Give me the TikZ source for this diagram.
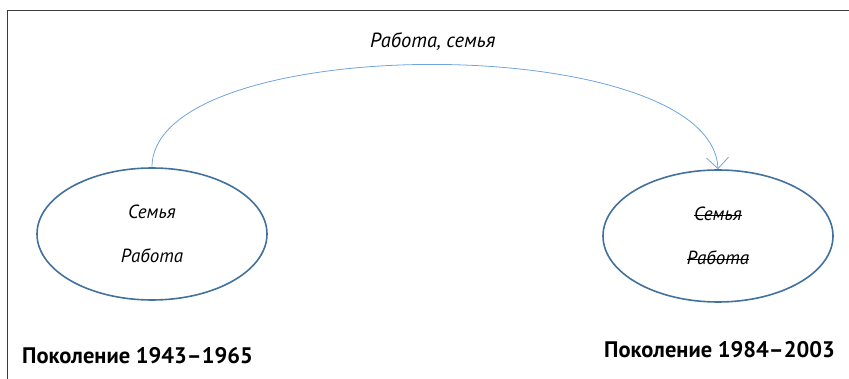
\documentclass[tikz,border=0pt]{standalone}
\usepackage{fontspec}
\setmainfont{PT Sans}
\usepackage{tikz}
\usetikzlibrary{shapes.geometric, arrows.meta, positioning}
\definecolor{ringblue}{RGB}{65, 113, 156}
\definecolor{arcblue}{RGB}{110, 165, 220}
\definecolor{framegrey}{RGB}{60, 60, 60}
\newsavebox{\strkbox}
\newcommand{\strk}[1]{\sbox{\strkbox}{#1}\rlap{\rule[0.5ex]{\wd\strkbox}{0.7pt}}\usebox{\strkbox}}

\begin{document}
\begin{tikzpicture}[
    x=1pt, y=-1pt,
    generation/.style={
        ellipse, draw=ringblue, line width=1.6pt, minimum width=230pt, minimum height=132pt,
        inner sep=0pt, align=center, font=\itshape\fontsize{19}{23}\selectfont
    },
    transfer/.style={
        -{Straight Barb[length=11pt, width=22pt]}, line width=0.8pt, draw=arcblue
    },
    flowlabel/.style={
        font=\itshape\fontsize{20.5}{24}\selectfont, inner sep=2pt
    },
    caption/.style={
        font=\bfseries\fontsize{22.5}{27}\selectfont, inner sep=0pt
    }
]
\useasboundingbox (0,0) rectangle (849,379);

% Frame (top and left edge only)
\draw[framegrey, line width=1.8pt] (7.5,379) -- (7.5,10.5) -- (849,10.5);

% Generations
\node[generation] (oldgen) at (152,234) {Семья\\[21pt]Работа};
\node[generation] (newgen) at (718,236) {\strk{Семья}\\[21pt]\strk{Работа}};

% Captions under the ellipses
\node[caption, anchor=base west] (oldcap) at (22,363) {Поколение 1943–1965};
\node[caption, anchor=base east] (newcap) at (835,358) {Поколение 1984–2003};

% Values passed on
\draw[transfer] (oldgen.north) .. controls (152,30) and (712,30) .. (newgen.north)
    node[pos=0.5, above=12pt, flowlabel] (flow) {Работа, семья};

\end{tikzpicture}
\end{document}
